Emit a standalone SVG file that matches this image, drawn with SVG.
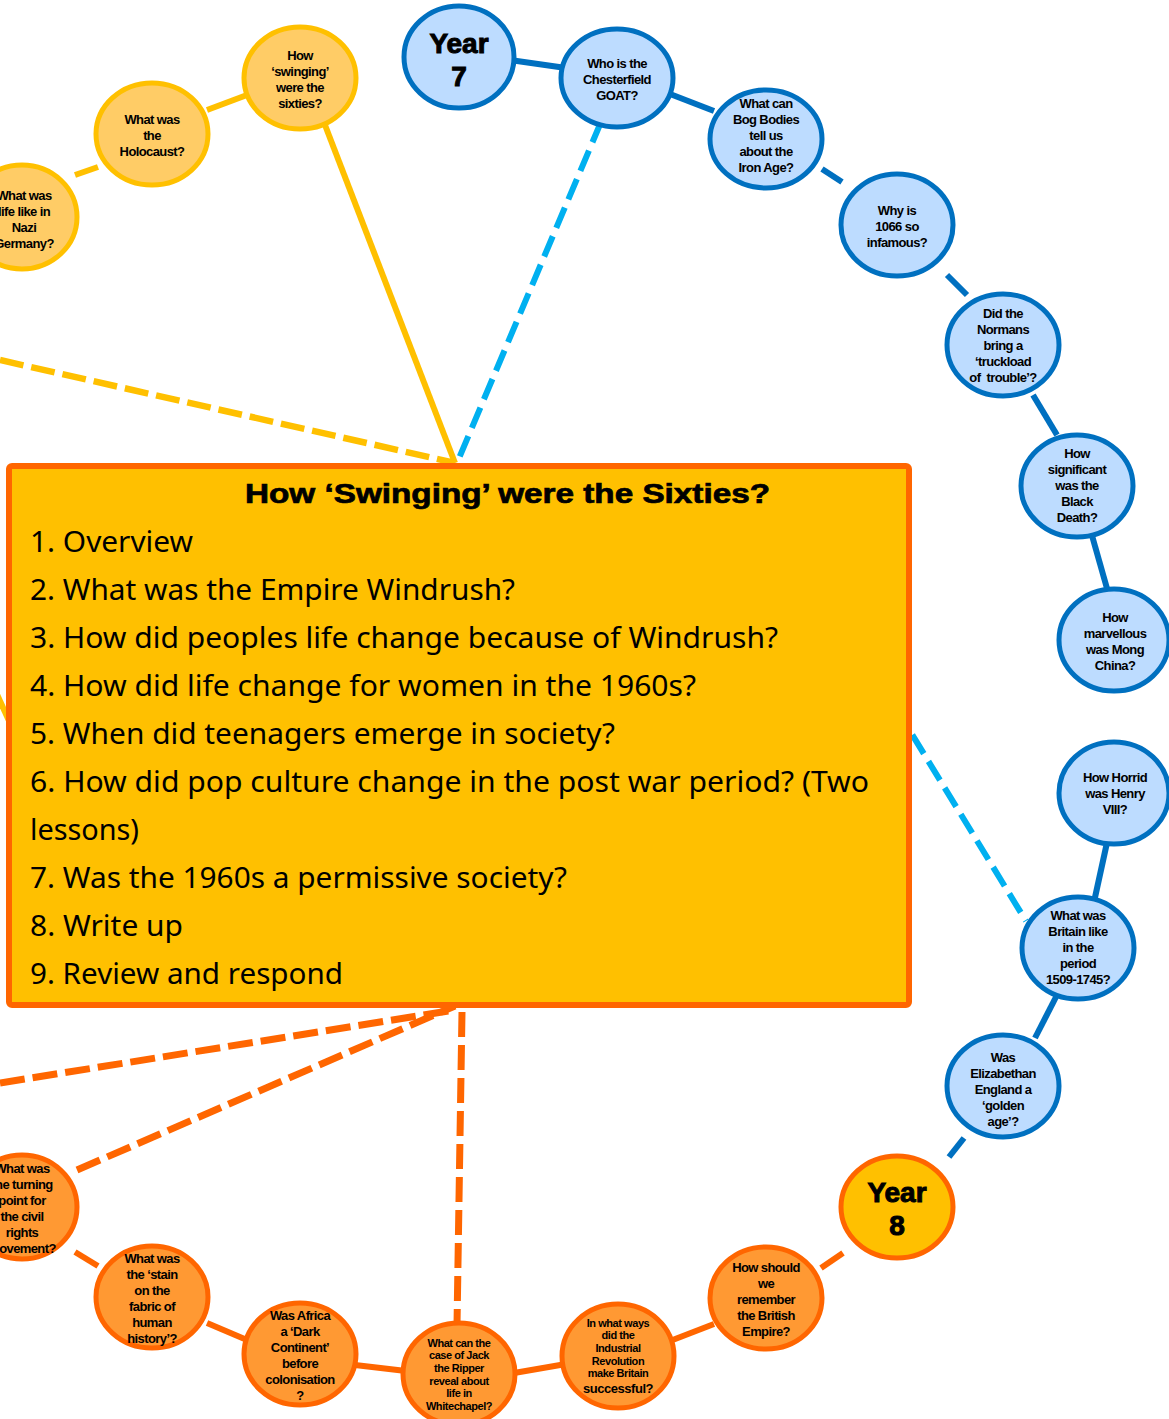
<svg xmlns="http://www.w3.org/2000/svg" width="1169" height="1419" viewBox="0 0 1169 1419">
<style>
.bg{fill:#ffffff}
.cy{fill:#FFCC66;stroke:#FFC000;stroke-width:5}
.cb{fill:#BDDCFF;stroke:#0070C0;stroke-width:5}
.co{fill:#FF9933;stroke:#FF6600;stroke-width:5}
.cyr{fill:#FFC000;stroke:#FF6600;stroke-width:5}
.lb{stroke:#0070C0;stroke-width:6;fill:none}
.lo{stroke:#FF6600;stroke-width:6;fill:none}
.ly{stroke:#FFC000;stroke-width:6;fill:none}
.dcy{stroke:#00B0F0;stroke-width:6;stroke-dasharray:22 9;fill:none}
.dy{stroke:#FFC000;stroke-width:6.5;stroke-dasharray:24 8;fill:none}
.do{stroke:#FF6600;stroke-width:7;stroke-dasharray:25 8;fill:none}
.t{font-family:"Liberation Sans",Arial,sans-serif;font-weight:bold;font-size:13px;text-anchor:middle;letter-spacing:-0.6px;fill:#000}
.ts{font-size:11px;letter-spacing:-0.45px}
.yr{font-family:"Liberation Sans",Arial,sans-serif;font-weight:bold;font-size:28px;text-anchor:middle;fill:#000;stroke:#000;stroke-width:1}
.ttl{font-family:"Liberation Sans",Arial,sans-serif;font-weight:bold;font-size:27px;fill:#000;stroke:#000;stroke-width:0.7}
.li{font-family:"Noto Sans","Open Sans",sans-serif;font-size:29px;fill:#000}
</style>
<rect class="bg" x="0" y="0" width="1169" height="1419"/>
<g id="connectors">
  <line class="dy" x1="0" y1="360" x2="455" y2="463"/>
  <line class="ly" x1="325" y1="125" x2="455" y2="463"/>
  <line class="dcy" x1="601" y1="122" x2="457" y2="463"/>
  <line class="dcy" x1="880" y1="682" x2="1026" y2="921"/>
  <line class="ly" x1="-5" y1="690" x2="20" y2="745"/>
  <line class="do" x1="0" y1="1083" x2="455" y2="1010"/>
  <line class="do" x1="77" y1="1170" x2="455" y2="1006"/>
  <line class="do" x1="462" y1="1012" x2="457" y2="1325"/>
  <line class="ly" x1="75" y1="175" x2="98" y2="167"/>
  <line class="ly" x1="207" y1="110" x2="247" y2="95"/>
  <line class="lb" x1="510" y1="60" x2="566" y2="68"/>
  <line class="lb" x1="670" y1="94" x2="714" y2="111"/>
  <line class="lb" x1="822" y1="169" x2="842" y2="182"/>
  <line class="lb" x1="947" y1="275" x2="967" y2="295"/>
  <line class="lb" x1="1033" y1="395" x2="1057" y2="435"/>
  <line class="lb" x1="1091" y1="532" x2="1108" y2="592"/>
  <line class="lb" x1="1108" y1="838" x2="1094" y2="902"/>
  <line class="lb" x1="1056" y1="997" x2="1035" y2="1038"/>
  <line class="lb" x1="964" y1="1138" x2="949" y2="1157"/>
  <line class="lo" x1="821" y1="1268" x2="843" y2="1253"/>
  <line class="lo" x1="670" y1="1341" x2="714" y2="1324"/>
  <line class="lo" x1="514" y1="1373" x2="566" y2="1364"/>
  <line class="lo" x1="355" y1="1365" x2="406" y2="1371"/>
  <line class="lo" x1="207" y1="1323" x2="247" y2="1340"/>
  <line class="lo" x1="75" y1="1252" x2="98" y2="1266"/>
</g>
<g id="box">
  <rect x="9" y="466" width="900" height="539" rx="3" fill="#FFC000" stroke="#FF6600" stroke-width="6"/>
  <text class="ttl" x="245" y="503" textLength="525" lengthAdjust="spacingAndGlyphs">How ‘Swinging’ were the Sixties?</text>
  <text class="li" x="30" y="552" textLength="163" lengthAdjust="spacingAndGlyphs">1. Overview</text>
  <text class="li" x="30" y="600" textLength="485" lengthAdjust="spacingAndGlyphs">2. What was the Empire Windrush?</text>
  <text class="li" x="30" y="648" textLength="748" lengthAdjust="spacingAndGlyphs">3. How did peoples life change because of Windrush?</text>
  <text class="li" x="30" y="696" textLength="666" lengthAdjust="spacingAndGlyphs">4. How did life change for women in the 1960s?</text>
  <text class="li" x="30" y="744" textLength="585" lengthAdjust="spacingAndGlyphs">5. When did teenagers emerge in society?</text>
  <text class="li" x="30" y="792" textLength="839" lengthAdjust="spacingAndGlyphs">6. How did pop culture change in the post war period? (Two</text>
  <text class="li" x="30" y="840" textLength="109" lengthAdjust="spacingAndGlyphs">lessons)</text>
  <text class="li" x="30" y="888" textLength="537" lengthAdjust="spacingAndGlyphs">7. Was the 1960s a permissive society?</text>
  <text class="li" x="30" y="936" textLength="153" lengthAdjust="spacingAndGlyphs">8. Write up</text>
  <text class="li" x="30" y="984" textLength="313" lengthAdjust="spacingAndGlyphs">9. Review and respond</text>
</g>
<g id="n-nazi"><ellipse class="cy" cx="22" cy="217" rx="55" ry="52"/><text class="t"><tspan x="24" y="200">What was</tspan><tspan x="24" y="216">life like in</tspan><tspan x="24" y="232">Nazi</tspan><tspan x="24" y="248">Germany?</tspan></text></g>
<g id="n-holocaust"><ellipse class="cy" cx="152" cy="134" rx="56" ry="51"/><text class="t"><tspan x="152" y="124">What was</tspan><tspan x="152" y="140">the</tspan><tspan x="152" y="156">Holocaust?</tspan></text></g>
<g id="n-swinging"><ellipse class="cy" cx="300" cy="78" rx="56" ry="51"/><text class="t"><tspan x="300" y="60">How</tspan><tspan x="300" y="76">‘swinging’</tspan><tspan x="300" y="92">were the</tspan><tspan x="300" y="108">sixties?</tspan></text></g>
<g id="n-year7"><ellipse class="cb" cx="459" cy="57" rx="55" ry="51"/><text class="yr"><tspan x="459" y="53">Year</tspan><tspan x="459" y="86">7</tspan></text></g>
<g id="n-goat"><ellipse class="cb" cx="617" cy="78" rx="56" ry="49"/><text class="t"><tspan x="617" y="68">Who is the</tspan><tspan x="617" y="84">Chesterfield</tspan><tspan x="617" y="100">GOAT?</tspan></text></g>
<g id="n-bog"><ellipse class="cb" cx="766" cy="139" rx="56" ry="49"/><text class="t"><tspan x="766" y="108">What can</tspan><tspan x="766" y="124">Bog Bodies</tspan><tspan x="766" y="140">tell us</tspan><tspan x="766" y="156">about the</tspan><tspan x="766" y="172">Iron Age?</tspan></text></g>
<g id="n-1066"><ellipse class="cb" cx="897" cy="225" rx="56" ry="51"/><text class="t"><tspan x="897" y="215">Why is</tspan><tspan x="897" y="231">1066 so</tspan><tspan x="897" y="247">infamous?</tspan></text></g>
<g id="n-normans"><ellipse class="cb" cx="1003" cy="345" rx="56" ry="51"/><text class="t"><tspan x="1003" y="318">Did the</tspan><tspan x="1003" y="334">Normans</tspan><tspan x="1003" y="350">bring a</tspan><tspan x="1003" y="366">‘truckload</tspan><tspan x="1003" y="382">of&#160; trouble’?</tspan></text></g>
<g id="n-black"><ellipse class="cb" cx="1077" cy="486" rx="56" ry="51"/><text class="t"><tspan x="1077" y="458">How</tspan><tspan x="1077" y="474">significant</tspan><tspan x="1077" y="490">was the</tspan><tspan x="1077" y="506">Black</tspan><tspan x="1077" y="522">Death?</tspan></text></g>
<g id="n-mong"><ellipse class="cb" cx="1114" cy="640" rx="55" ry="51"/><text class="t"><tspan x="1115" y="622">How</tspan><tspan x="1115" y="638">marvellous</tspan><tspan x="1115" y="654">was Mong</tspan><tspan x="1115" y="670">China?</tspan></text></g>
<g id="n-henry"><ellipse class="cb" cx="1114" cy="793" rx="55" ry="51"/><text class="t"><tspan x="1115" y="782">How Horrid</tspan><tspan x="1115" y="798">was Henry</tspan><tspan x="1115" y="814">VIII?</tspan></text></g>
<g id="n-britain"><ellipse class="cb" cx="1078" cy="948" rx="56" ry="51"/><text class="t"><tspan x="1078" y="920">What was</tspan><tspan x="1078" y="936">Britain like</tspan><tspan x="1078" y="952">in the</tspan><tspan x="1078" y="968">period</tspan><tspan x="1078" y="984">1509-1745?</tspan></text></g>
<g id="n-elizabeth"><ellipse class="cb" cx="1003" cy="1086" rx="56" ry="51"/><text class="t"><tspan x="1003" y="1062">Was</tspan><tspan x="1003" y="1078">Elizabethan</tspan><tspan x="1003" y="1094">England a</tspan><tspan x="1003" y="1110">‘golden</tspan><tspan x="1003" y="1126">age’?</tspan></text></g>
<g id="n-year8"><ellipse class="cyr" cx="897" cy="1207" rx="56" ry="51"/><text class="yr"><tspan x="897" y="1202">Year</tspan><tspan x="897" y="1235">8</tspan></text></g>
<g id="n-empire"><ellipse class="co" cx="766" cy="1298" rx="56" ry="51"/><text class="t"><tspan x="766" y="1272">How should</tspan><tspan x="766" y="1288">we</tspan><tspan x="766" y="1304">remember</tspan><tspan x="766" y="1320">the British</tspan><tspan x="766" y="1336">Empire?</tspan></text></g>
<g id="n-industrial"><ellipse class="co" cx="618" cy="1356" rx="56" ry="52"/><text class="t ts"><tspan x="618" y="1327">In what ways</tspan><tspan x="618" y="1339">did the</tspan><tspan x="618" y="1352">Industrial</tspan><tspan x="618" y="1365">Revolution</tspan><tspan x="618" y="1377">make Britain</tspan><tspan x="618" y="1393" style="font-size:13px">successful?</tspan></text></g>
<g id="n-jack"><ellipse class="co" cx="459" cy="1374" rx="56" ry="51"/><text class="t ts"><tspan x="459" y="1347">What can the</tspan><tspan x="459" y="1359">case of Jack</tspan><tspan x="459" y="1372">the Ripper</tspan><tspan x="459" y="1385">reveal about</tspan><tspan x="459" y="1397">life in</tspan><tspan x="459" y="1410">Whitechapel?</tspan></text></g>
<g id="n-africa"><ellipse class="co" cx="300" cy="1354" rx="56" ry="51"/><text class="t"><tspan x="300" y="1320">Was Africa</tspan><tspan x="300" y="1336">a ‘Dark</tspan><tspan x="300" y="1352">Continent’</tspan><tspan x="300" y="1368">before</tspan><tspan x="300" y="1384">colonisation</tspan><tspan x="300" y="1400">?</tspan></text></g>
<g id="n-stain"><ellipse class="co" cx="152" cy="1297" rx="56" ry="51"/><text class="t"><tspan x="152" y="1263">What was</tspan><tspan x="152" y="1279">the ‘stain</tspan><tspan x="152" y="1295">on the</tspan><tspan x="152" y="1311">fabric of</tspan><tspan x="152" y="1327">human</tspan><tspan x="152" y="1343">history’?</tspan></text></g>
<g id="n-civil"><ellipse class="co" cx="22" cy="1207" rx="55" ry="52"/><text class="t"><tspan x="22" y="1173">What was</tspan><tspan x="22" y="1189">the turning</tspan><tspan x="22" y="1205">point for</tspan><tspan x="22" y="1221">the civil</tspan><tspan x="22" y="1237">rights</tspan><tspan x="22" y="1253">movement?</tspan></text></g>
</svg>
